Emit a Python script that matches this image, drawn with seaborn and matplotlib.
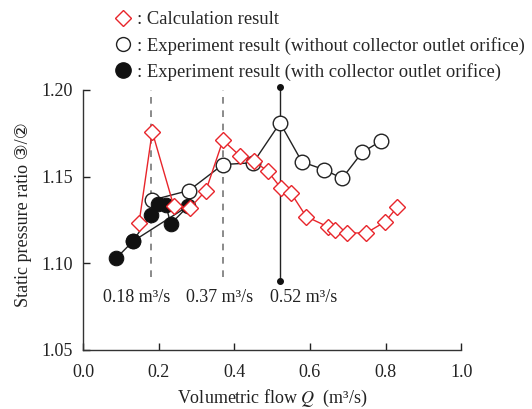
import matplotlib
matplotlib.use("Agg")
import matplotlib.pyplot as plt
from matplotlib.lines import Line2D
import seaborn as sns
import pandas as pd

sns.set_style("ticks")
plt.rcParams['font.family'] = ['Liberation Serif', 'DejaVu Sans']
plt.rcParams['mathtext.fontset'] = 'stix'

# Calculation result (red diamonds)
calc_q = [0.148, 0.183, 0.240, 0.283, 0.325, 0.370, 0.415, 0.452, 0.489, 0.523,
          0.550, 0.590, 0.648, 0.667, 0.698, 0.749, 0.799, 0.831]
calc_r = [1.123, 1.176, 1.133, 1.132, 1.142, 1.171, 1.162, 1.159, 1.153, 1.1435,
          1.1405, 1.127, 1.121, 1.119, 1.1175, 1.1175, 1.124, 1.1325]

# Experiment without orifice (open circles)
open_q = [0.183, 0.280, 0.370, 0.450, 0.521, 0.579, 0.638, 0.685, 0.738, 0.788]
open_r = [1.1365, 1.142, 1.157, 1.158, 1.181, 1.1585, 1.154, 1.149, 1.164, 1.1706]

# Experiment with orifice (filled circles), in measurement order
fill_q = [0.088, 0.132, 0.179, 0.199, 0.219, 0.232, 0.278, 0.132]
fill_r = [1.103, 1.1127, 1.128, 1.134, 1.1336, 1.1227, 1.133, 1.1127]

marks_q = [0.18, 0.37, 0.52]
mark_labels = ["0.18 m³/s", "0.37 m³/s", "0.52 m³/s"]
mark_label_x = [0.143, 0.362, 0.582]

FS = 13

fig = plt.figure(figsize=(5.32, 4.09), dpi=100)
ax = fig.add_axes([0.156, 0.1443, 0.711, 0.6357])

df_calc = pd.DataFrame({"Q": calc_q, "R": calc_r})
df_open = pd.DataFrame({"Q": open_q, "R": open_r})
df_fill = pd.DataFrame({"Q": fill_q, "R": fill_r})

# reference lines
for q in marks_q[:2]:
    ax.plot([q, q], [1.092, 1.2], color="#777777", lw=1.2, ls=(0, (4, 4)), zorder=1)
ax.plot([marks_q[2], marks_q[2]], [1.09, 1.202], color="#222222", lw=1.0, zorder=1,
        clip_on=False)
ax.plot([marks_q[2], marks_q[2]], [1.09, 1.202], ls="none", marker="o", ms=4,
        color="#111111", clip_on=False, zorder=5)

sns.lineplot(data=df_fill, x="Q", y="R", sort=False, estimator=None, ax=ax,
             color="#222222", lw=1.0, marker="o", markersize=10.5,
             markerfacecolor="#111111", markeredgecolor="#111111", zorder=3)
sns.lineplot(data=df_open, x="Q", y="R", sort=False, estimator=None, ax=ax,
             color="#222222", lw=1.0, marker="o", markersize=10.5,
             markerfacecolor="white", markeredgecolor="#222222", markeredgewidth=1.0,
             zorder=2)
sns.lineplot(data=df_calc, x="Q", y="R", sort=False, estimator=None, ax=ax,
             color="#e8252b", lw=1.0, marker="D", markersize=8,
             markerfacecolor="white", markeredgecolor="#e8252b", markeredgewidth=1.0,
             zorder=4)

for x, lab in zip(mark_label_x, mark_labels):
    ax.text(x, 1.080, lab, ha="center", va="center", fontsize=FS, color="#222222")

ax.set_xlim(0, 1.0)
ax.set_ylim(1.05, 1.20)
ax.set_xticks([0.0, 0.2, 0.4, 0.6, 0.8, 1.0])
ax.set_xticklabels(["0.0", "0.2", "0.4", "0.6", "0.8", "1.0"])
ax.set_yticks([1.05, 1.10, 1.15, 1.20])
ax.set_yticklabels(["1.05", "1.10", "1.15", "1.20"])
ax.tick_params(direction="in", length=5, width=1.0, labelsize=FS, colors="#222222")
ax.tick_params(axis="x", pad=10)
ax.tick_params(axis="y", pad=7)
for s in ["top", "right"]:
    ax.spines[s].set_visible(False)
for s in ["left", "bottom"]:
    ax.spines[s].set_color("#333333")
    ax.spines[s].set_linewidth(1.0)

ax.set_xlabel("Volumetric flow $Q$  (m³/s)", fontsize=FS, color="#222222")
ax.xaxis.set_label_coords(0.5, -0.145)
ax.set_ylabel("Static pressure ratio \u2462/\u2461", fontsize=FS, color="#222222")
ax.yaxis.set_label_coords(-0.135, 0.52)

handles = [
    Line2D([], [], ls="none", marker="D", ms=8, mfc="white", mec="#e8252b", mew=1.0),
    Line2D([], [], ls="none", marker="o", ms=10, mfc="white", mec="#222222", mew=1.0),
    Line2D([], [], ls="none", marker="o", ms=11, mfc="#111111", mec="#111111"),
]
labels = [": Calculation result",
          ": Experiment result (without collector outlet orifice)",
          ": Experiment result (with collector outlet orifice)"]
fig.legend(handles, labels, loc="upper left", bbox_to_anchor=(0.192, 1.0),
           frameon=False, fontsize=13.4, handlelength=1.0, handletextpad=0.25,
           labelspacing=0.45, borderaxespad=0.2)

fig.savefig("out.png", dpi=100)
